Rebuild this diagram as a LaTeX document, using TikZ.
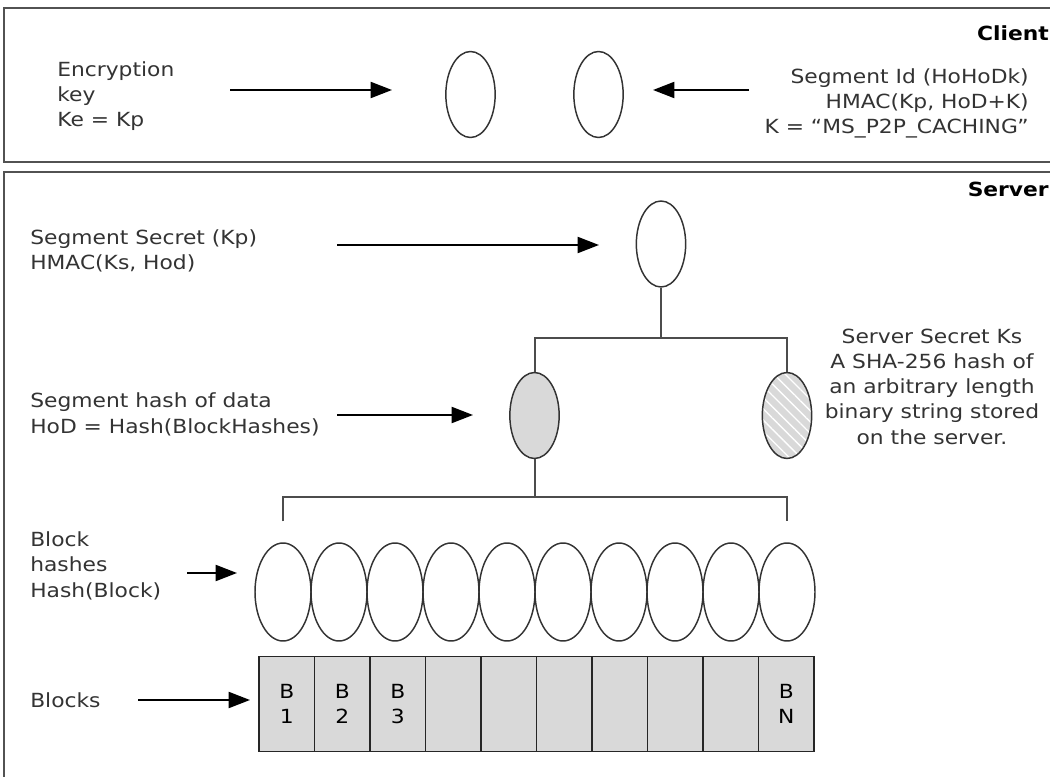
\documentclass[tikz,border=0pt]{standalone}
\usepackage{fontspec}
\setmainfont[FakeStretch=1.12]{DejaVu Sans}
\usepackage{tikz}
\usetikzlibrary{shapes.geometric,arrows.meta,patterns.meta}
\tikzset{>={Triangle[length=16pt,width=12pt]}}
\usepackage{xcolor}
\colorlet{framecol}{black!68}
\colorlet{linkcol}{black!70}
\colorlet{shadecol}{black!15}
\tikzstyle{frame}=[framecol,line width=1.7pt]
\tikzstyle{flow}=[->,line width=1.5pt]
\tikzstyle{link}=[linkcol,line width=1.5pt]
\tikzstyle{hashnode}=[ellipse,draw=black!80,line width=1.1pt,inner sep=0,
                      minimum width=37pt,minimum height=64.5pt]
\tikzstyle{bighash}=[hashnode,minimum width=42pt,minimum height=73.5pt]
\tikzstyle{block}=[rectangle,draw=black!85,fill=shadecol,line width=1.3pt,
                   inner sep=0,minimum width=41.6pt,minimum height=71.25pt,align=center]
\tikzstyle{note}=[inner sep=0,align=left,anchor=base west,black!80]
\tikzset{
  hatched/.style={hashnode,preaction={fill=shadecol},
                  pattern={Lines[angle=-45,distance=6pt,line width=1pt]},
                  pattern color=white}}

\begin{document}
\begin{tikzpicture}[x=0.75pt,y=-0.75pt,font=\fontsize{14.6pt}{18.8pt}\selectfont]
  \def\NB{10}
  \def\dH{56}
  \def\dB{55.5}

  \useasboundingbox (0,0) rectangle (1050,777);
  \clip (0,0) rectangle (1050,777);

  % FRAMES
  \draw[frame] (4,8) rectangle (1070,162);
  \draw[frame] (4,172) rectangle (1070,800);
  \node[note,anchor=base east,font=\fontsize{14.6pt}{18.8pt}\selectfont\bfseries,black]
    (client) at (1049,41) {Client};
  \node[note,anchor=base east,font=\fontsize{14.6pt}{18.8pt}\selectfont\bfseries,black]
    (server) at (1049,197) {Server};

  % CLIENT
  \node[hashnode] (ke) at (470.5,94.5) {};
  \node[hashnode] (segid) at (598.5,94.5) {};
  \node[note] (kedesc) at (57,127) {Encryption\\key\\Ke = Kp};
  \node[note,anchor=base east,align=right] (segiddesc) at (1029,134)
    {Segment Id (HoHoDk)\\HMAC(Kp, HoD+K)\\K = “MS\_P2P\_CACHING”};
  \coordinate (keA) at (230,90);
  \coordinate (keB) at (392,90);
  \coordinate (segidA) at (749,90);
  \coordinate (segidB) at (653,90);
  \draw[flow] (keA) -- (keB);
  \draw[flow] (segidA) -- (segidB);

  % SERVER
  \node[hashnode] (kp) at (661,244) {};
  \node[hashnode,fill=shadecol] (hod) at (534.5,415.5) {};
  \node[hatched] (ks) at (787,415.5) {};
  \node[note] (kpdesc) at (30,270) {Segment Secret (Kp)\\HMAC(Ks, Hod)};
  \node[note] (hoddesc) at (30,433) {Segment hash of data\\HoD = Hash(BlockHashes)};
  \node[note,anchor=base,align=center] (ksdesc) at (932,444)
    {Server Secret Ks\\A SHA-256 hash of\\an arbitrary length\\binary string stored\\on the server.};
  \coordinate (kpA) at (337,245);
  \coordinate (kpB) at (599,245);
  \coordinate (hodA) at (337,415);
  \coordinate (hodB) at (473,415);
  \draw[flow] (kpA) -- (kpB);
  \draw[flow] (hodA) -- (hodB);

  % TREE
  \coordinate (fork1) at (661,338);
  \draw[link] (kp.south) -- (fork1);
  \draw[link] (hod.north) |- (fork1) -| (ks.north);

  % BLOCK HASHES
  \foreach \i in {1,...,\NB}{
    \node[bighash] (bh\i) at ({283+(\i-1)*\dH},592) {};
  }
  \coordinate (fork2) at (534.5,497);
  \draw[link] (hod.south) -- (fork2);
  \draw[link] ([yshift=15.75pt]bh1.north) |- (fork2) -| ([yshift=15.75pt]bh\NB.north);
  \node[note] (bhdesc) at (30,597) {Block\\hashes\\Hash(Block)};
  \coordinate (bhA) at (187,573);
  \coordinate (bhB) at (237,573);
  \draw[flow] (bhA) -- (bhB);

  % BLOCKS
  \foreach \i/\t in {1/{B\\1},2/{B\\2},3/{B\\3},4/{},5/{},6/{},7/{},8/{},9/{},10/{B\\N}}{
    \node[block] (blk\i) at ({286.75+(\i-1)*\dB},704) {\t};
  }
  \node[note] (blkdesc) at (30,707) {Blocks};
  \coordinate (blkA) at (138,700);
  \coordinate (blkB) at (250,700);
  \draw[flow] (blkA) -- (blkB);

\end{tikzpicture}
\end{document}
